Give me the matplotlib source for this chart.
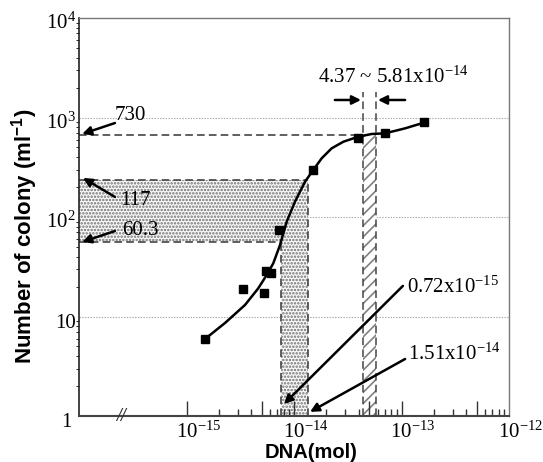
import matplotlib
matplotlib.use("Agg")
import matplotlib.pyplot as plt
import matplotlib.transforms as mtransforms

plt.rcParams["mathtext.fontset"] = "custom"
plt.rcParams["mathtext.rm"] = "Liberation Serif"
plt.rcParams["mathtext.it"] = "Liberation Serif:italic"
plt.rcParams["mathtext.bf"] = "Liberation Serif:bold"
plt.rcParams["mathtext.default"] = "regular"
plt.rcParams["lines.scale_dashes"] = False
plt.rcParams["hatch.linewidth"] = 1.2

# ---------------- data ----------------
dna_mol = [1.486e-15, 3.33e-15, 5.26e-15, 5.50e-15, 6.11e-15, 7.30e-15,
           1.51e-14, 3.96e-14, 7.03e-14, 1.63e-13]
colony = [5.94, 18.9, 17.1, 28.7, 27.2, 74.0, 297, 627, 693, 895]

fit_dna = [1.486e-15, 2.28e-15, 3.50e-15, 4.65e-15, 5.57e-15, 6.42e-15,
           7.41e-15, 8.55e-15, 1.021e-14, 1.265e-14, 1.51e-14, 1.81e-14,
           2.24e-14, 2.88e-14, 3.96e-14, 5.28e-14, 7.03e-14, 1.08e-13,
           1.66e-13]
fit_colony = [5.94, 8.60, 13.05, 19.2, 26.1, 34.3, 52.3, 89.7, 142.5, 226,
              297, 389, 490, 571, 641, 683, 693, 778, 895]

band_colony = [56, 236]           # stippled horizontal band
band_dna = [7.5e-15, 1.35e-14]    # stippled vertical strip
hatch_dna = [4.37e-14, 5.81e-14]  # hatched strip
plateau_colony = 660

x_tick_vals = [1e-15, 1e-14, 1e-13, 1e-12]
x_tick_labels = [r"$10^{-15}$", r"$10^{-14}$", r"$10^{-13}$", r"$10^{-12}$"]
y_tick_vals = [1, 10, 100, 1000, 10000]
y_tick_labels = ["1", "10", r"$10^{2}$", r"$10^{3}$", r"$10^{4}$"]

XMIN, XMAX = 1e-16, 1e-12
YMIN, YMAX = 1, 1e4

# ---------------- figure ----------------
fig = plt.figure(figsize=(5.43, 4.62), dpi=100)
ax = fig.add_axes([79 / 543, 1 - 416 / 462, 430 / 543, 398 / 462])
ax.set_xscale("log")
ax.set_yscale("log")
ax.set_xlim(XMIN, XMAX)
ax.set_ylim(YMIN, YMAX)

serif = "Liberation Serif"
fs = 15
dash_col = "#444444"
dashes = (5.5, 3)

# grid lines (dotted)
for v in [10, 100, 1000]:
    ax.axhline(v, color="#aaaaaa", lw=0.8, ls=(0, (1, 1)), zorder=0.5)

# stippled L-shaped region
sx = [XMIN, XMIN, band_dna[1], band_dna[1], band_dna[0], band_dna[0]]
sy = [band_colony[0], band_colony[1], band_colony[1], YMIN, YMIN, band_colony[0]]
ax.fill(sx, sy, facecolor="#f9f9f9", edgecolor="#707070", hatch=".....",
        lw=0, zorder=1)

# hatched strip
ax.fill([hatch_dna[0], hatch_dna[0], hatch_dna[1], hatch_dna[1]],
        [YMIN, plateau_colony, plateau_colony, YMIN],
        facecolor="white", edgecolor="#808080", hatch="///", lw=0, zorder=1)

# dashed guide lines
ax.plot([XMIN, hatch_dna[0]], [plateau_colony] * 2, color=dash_col, lw=1.2,
        dashes=dashes, zorder=2)
ax.plot([XMIN, band_dna[1]], [band_colony[1]] * 2, color=dash_col, lw=1.2,
        dashes=dashes, zorder=2)
ax.plot([XMIN, band_dna[0]], [band_colony[0]] * 2, color=dash_col, lw=1.2,
        dashes=dashes, zorder=2)
ax.plot([band_dna[0]] * 2, [YMIN, band_colony[0]], color=dash_col, lw=1.2,
        dashes=dashes, zorder=2)
ax.plot([band_dna[1]] * 2, [YMIN, band_colony[1]], color=dash_col, lw=1.2,
        dashes=dashes, zorder=2)
for xv in hatch_dna:
    ax.plot([xv] * 2, [YMIN, 1805], color=dash_col, lw=1.1, dashes=dashes,
            zorder=2)

# fitted curve and data
ax.plot(fit_dna, fit_colony, color="black", lw=1.8, zorder=3,
        solid_capstyle="round", solid_joinstyle="round")
ax.plot(dna_mol, colony, ls="none", marker="s", ms=6.3, color="black",
        zorder=4)

# ticks
ax.tick_params(axis="y", left=False, labelleft=False)
major = [1e-15, 5e-15, 1e-14, 5e-14, 1e-13, 5e-13]
minor = [m * d for d in [1e-15, 1e-14, 1e-13] for m in [2, 3, 4, 6, 7, 8, 9]]
ax.set_xticks(major)
ax.set_xticks(minor, minor=True)
ax.tick_params(axis="x", which="major", direction="in", length=10.5, width=1,
               color="#333333", labelbottom=False)
ax.tick_params(axis="x", which="minor", direction="in", length=5, width=1,
               color="#333333", labelbottom=False)

# spines
ax.spines["left"].set_linewidth(1.2)
ax.spines["left"].set_color("#222222")
ax.spines["bottom"].set_linewidth(1.5)
ax.spines["bottom"].set_color("#444444")
for s in ["top", "right"]:
    ax.spines[s].set_linewidth(1.0)
    ax.spines[s].set_color("#777777")

# tick labels
xtrans = mtransforms.blended_transform_factory(ax.transData, ax.transAxes)
xtrans = mtransforms.offset_copy(xtrans, fig=fig, x=-11, y=-22, units="dots")
for v, lab in zip(x_tick_vals, x_tick_labels):
    ax.text(v, 0, lab, transform=xtrans, ha="left", va="baseline",
            family=serif, fontsize=fs, clip_on=False)
ytrans = mtransforms.blended_transform_factory(ax.transAxes, ax.transData)
for v, lab in zip(y_tick_vals, y_tick_labels):
    dx = -7 if lab == "1" else -3
    t = mtransforms.offset_copy(ytrans, fig=fig, x=dx, y=-11, units="dots")
    ax.text(0, v, lab, transform=t, ha="right", va="baseline",
            family=serif, fontsize=fs, clip_on=False)

# axis break mark
ax.text(0.098, -0.002, "//", transform=ax.transAxes, ha="center",
        va="center", family=serif, fontsize=13, style="italic",
        fontweight="bold", color="#333333", clip_on=False)

# annotations
arrow = dict(arrowstyle="-|>", color="black", lw=1.8, mutation_scale=13,
             shrinkA=0, shrinkB=0)
ax.annotate("", xy=(1.07e-16, 683), xytext=(2.16e-16, 880), arrowprops=arrow)
ax.text(2.16e-16, 944, "730", family=serif, fontsize=fs, ha="left",
        va="baseline")
ax.annotate("", xy=(1.09e-16, 247), xytext=(2.16e-16, 159), arrowprops=arrow)
ax.text(2.40e-16, 132, "117", family=serif, fontsize=fs, ha="left",
        va="baseline")
ax.annotate("", xy=(1.07e-16, 56.1), xytext=(2.16e-16, 72.3), arrowprops=arrow)
ax.text(2.51e-16, 65.9, "60.3", family=serif, fontsize=fs, ha="left",
        va="baseline")

ax.text(8.44e-14, 2222, r"4.37 ~ 5.81x$10^{-14}$", family=serif, fontsize=fs,
        ha="center", va="baseline")
ax.annotate("", xy=(4.20e-14, 1500), xytext=(2.40e-14, 1500), arrowprops=arrow)
ax.annotate("", xy=(6.04e-14, 1500), xytext=(1.08e-13, 1500), arrowprops=arrow)

ax.annotate("", xy=(8.07e-15, 1.32), xytext=(1.03e-13, 20.3), arrowprops=arrow)
ax.text(1.12e-13, 17.2, r"0.72x$10^{-15}$", family=serif, fontsize=fs,
        ha="left", va="baseline")
ax.annotate("", xy=(1.41e-14, 1.10), xytext=(1.08e-13, 3.74), arrowprops=arrow)
ax.text(1.15e-13, 3.65, r"1.51x$10^{-14}$", family=serif, fontsize=fs,
        ha="left", va="baseline")

# axis titles
fig.text(25 / 543, 1 - 236 / 462, r"Number of colony (ml$^{-1}$)", rotation=90,
         ha="center", va="center", fontsize=16, fontweight="bold",
         family="Liberation Sans")
fig.text(311 / 543, 1 - 443 / 462, "DNA(mol)", ha="center", va="top",
         fontsize=14.5, fontweight="bold", family="Liberation Sans")

fig.savefig("out.png", dpi=100)
